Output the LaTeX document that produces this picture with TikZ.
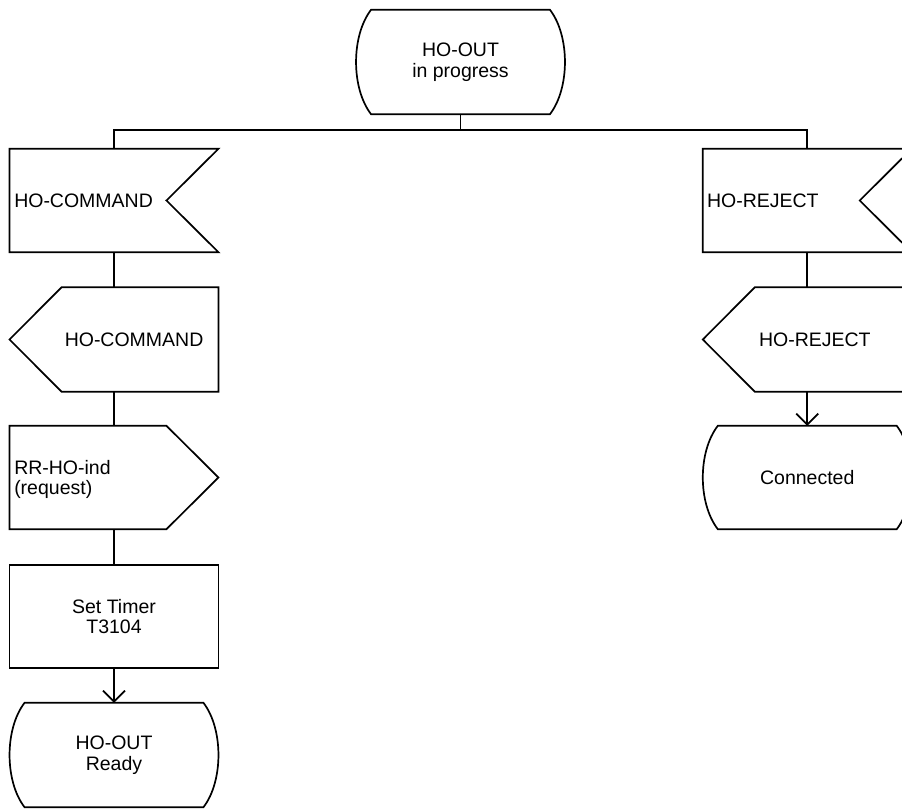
\documentclass[tikz,border=0pt]{standalone}
\usepackage{fontspec}
\setmainfont{Liberation Sans}
\usetikzlibrary{arrows.meta,calc}
\tikzset{
  shp/.style={draw=none, inner sep=0pt, minimum width=208.5pt},
  lbl/.style={inner sep=0pt, font=\fontsize{19.5}{20.5}\selectfont},
  ln/.style={line width=1.7pt, line join=miter},
  arr/.style={ln, -{Straight Barb[length=11pt,width=22pt,line width=1.7pt]}},
}
\newcommand\stateoutline[1]{%
  \draw[ln] ([xshift=15pt]#1.north west) -- ([xshift=-15pt]#1.north east)
    .. controls ([xshift=5pt,yshift=-26pt]#1.north east) and ([xshift=5pt,yshift=26pt]#1.south east) .. ([xshift=-15pt]#1.south east)
    -- ([xshift=15pt]#1.south west)
    .. controls ([xshift=-5pt,yshift=26pt]#1.south west) and ([xshift=-5pt,yshift=-26pt]#1.north west) .. cycle;}
\newcommand\inputoutline[1]{%
  \draw[ln] (#1.north west) -- (#1.north east) -- ([xshift=-52pt]#1.east) -- (#1.south east) -- (#1.south west) -- cycle;}
\newcommand\outleftoutline[1]{%
  \draw[ln] ([xshift=52pt]#1.north west) -- (#1.north east) -- (#1.south east) -- ([xshift=52pt]#1.south west) -- (#1.west) -- cycle;}
\newcommand\outrightoutline[1]{%
  \draw[ln] (#1.north west) -- ([xshift=-52pt]#1.north east) -- (#1.east) -- ([xshift=-52pt]#1.south east) -- (#1.south west) -- cycle;}
\begin{document}
\begin{tikzpicture}[x=1pt,y=-1pt]
\useasboundingbox (0,0) rectangle (902,810);
\clip (0,0) rectangle (902,810);
% shapes
\node[shp, minimum height=104pt] (st0) at (460.5,62) {};
\node[shp, minimum height=103pt] (in1) at (114,200.5) {};
\node[shp, minimum height=104pt] (out1) at (114,339.5) {};
\node[shp, minimum height=103pt] (out2) at (114,477.5) {};
\node[shp, minimum height=103pt] (task) at (114,616.5) {};
\node[shp, minimum height=104pt] (st1) at (114,755) {};
\node[shp, minimum height=103pt] (in2) at (807.25,200.5) {};
\node[shp, minimum height=104pt] (out3) at (807.25,339.5) {};
\node[shp, minimum height=103pt] (st2) at (807.25,477.5) {};
\stateoutline{st0}
\inputoutline{in1}
\outleftoutline{out1}
\outrightoutline{out2}
\draw[ln] (task.north west) rectangle (task.south east);
\stateoutline{st1}
\inputoutline{in2}
\outleftoutline{out3}
\stateoutline{st2}
% labels
\node[lbl, align=center] (t0) at (st0) {HO-OUT\\in progress};
\node[lbl, anchor=west] (t1) at ([xshift=4.5pt]in1.west) {HO-COMMAND};
\node[lbl, anchor=west] (t2) at ([xshift=55pt]out1.west) {HO-COMMAND};
\node[lbl, anchor=west, align=left] (t3) at ([xshift=4.5pt,yshift=-2pt]out2.west) {RR-HO-ind\\(request)};
\node[lbl, align=center] (t4) at (task) {Set Timer\\T3104};
\node[lbl, align=center] (t5) at (st1) {HO-OUT\\Ready};
\node[lbl, anchor=west] (t6) at ([xshift=4pt]in2.west) {HO-REJECT};
\node[lbl, anchor=west] (t7) at ([xshift=56pt]out3.west) {HO-REJECT};
\node[lbl] (t8) at (st2) {Connected};
% connectors
\coordinate (bus) at (460.5,130);
\draw[ln] (st0.south) -- (bus);
\draw[ln] (in1.north) |- (bus);
\draw[ln] (in2.north) |- (bus);
\draw[ln] (in1.south) -- (out1.north);
\draw[ln] (out1.south) -- (out2.north);
\draw[ln] (out2.south) -- (task.north);
\draw[arr] (task.south) -- (st1.north);
\draw[ln] (in2.south) -- (out3.north);
\draw[arr] (out3.south) -- (st2.north);
\end{tikzpicture}
\end{document}
